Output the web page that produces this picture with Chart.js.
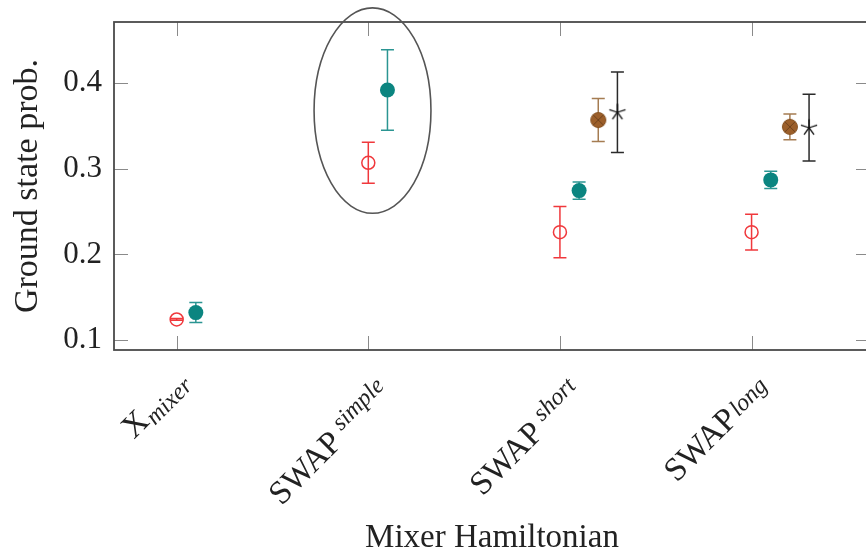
<!DOCTYPE html>
<html>
<head>
<meta charset="utf-8">
<script src="https://cdn.jsdelivr.net/npm/chart.js@4.4.1/dist/chart.umd.min.js"></script>
<style>
  html, body { margin: 0; padding: 0; overflow: hidden; background: #fff; }
  canvas { display: block; }
</style>
</head>
<body>
<canvas id="probChart" width="880" height="555"></canvas>
<script>
// categories (main word + index) and y ticks
const categoryNames = ['X', 'SWAP', 'SWAP', 'SWAP'];
const categorySubs = ['mixer', 'simple', 'short', 'long'];
const yTickValues = [0.1, 0.2, 0.3, 0.4];

// mean ground state probability and error (half width) per series
const redMean = [0.124, 0.307, 0.226, 0.226];
const redErr = [0.001, 0.024, 0.030, 0.021];
const tealMean = [0.132, 0.392, 0.2745, 0.287];
const tealErr = [0.0117, 0.047, 0.010, 0.010];
const brownMean = [null, null, 0.357, 0.349];
const brownErr = [null, null, 0.025, 0.015];
const blackMean = [null, null, 0.366, 0.348];
const blackErr = [null, null, 0.047, 0.039];

function toPoints(mean, err, shift) {
    const pts = [];
    mean.forEach((m, i) => {
        if (m !== null) pts.push({ x: i + shift, y: m, err: err[i] });
    });
    return pts;
}

// otimes* style marker
function makeOtimes() {
    const c = document.createElement('canvas');
    c.width = 18; c.height = 18;
    const g = c.getContext('2d');
    g.beginPath();
    g.arc(9, 9, 7.5, 0, Math.PI * 2);
    g.fillStyle = '#9c5f2a';
    g.fill();
    g.strokeStyle = '#85501f';
    g.lineWidth = 1;
    g.stroke();
    g.beginPath();
    const d = 7.5 * Math.SQRT1_2;
    g.moveTo(9 - d, 9 - d); g.lineTo(9 + d, 9 + d);
    g.moveTo(9 + d, 9 - d); g.lineTo(9 - d, 9 + d);
    g.strokeStyle = '#6e421c';
    g.stroke();
    return c;
}

// five armed star marker
function makeStar() {
    const c = document.createElement('canvas');
    c.width = 20; c.height = 20;
    const g = c.getContext('2d');
    g.strokeStyle = '#111';
    g.lineWidth = 1.3;
    g.beginPath();
    for (let k = 0; k < 5; k++) {
        const a = -Math.PI / 2 + k * 2 * Math.PI / 5;
        g.moveTo(10, 10);
        g.lineTo(10 + 8.5 * Math.cos(a), 10 + 8.5 * Math.sin(a));
    }
    g.stroke();
    return c;
}

const errorBars = {
    id: 'errorBars',
    beforeDatasetsDraw(chart) {
        const ctx = chart.ctx;
        const xs = chart.scales.x, ys = chart.scales.y;
        ctx.save();
        chart.data.datasets.forEach(ds => {
            ctx.strokeStyle = ds.errColor;
            ctx.lineWidth = 1.5;
            ds.data.forEach(p => {
                const px = xs.getPixelForValue(p.x);
                const top = ys.getPixelForValue(p.y + p.err);
                const bot = ys.getPixelForValue(p.y - p.err);
                ctx.beginPath();
                ctx.moveTo(px, top); ctx.lineTo(px, bot);
                ctx.moveTo(px - 6.5, top); ctx.lineTo(px + 6.5, top);
                ctx.moveTo(px - 6.5, bot); ctx.lineTo(px + 6.5, bot);
                ctx.stroke();
            });
        });
        ctx.restore();
    }
};

const frameAndLabels = {
    id: 'frameAndLabels',
    afterDraw(chart) {
        const ctx = chart.ctx;
        const a = chart.chartArea;
        const xs = chart.scales.x, ys = chart.scales.y;
        ctx.save();
        // inward tick marks
        ctx.strokeStyle = '#8a8a8a';
        ctx.lineWidth = 1;
        ctx.beginPath();
        xs.ticks.forEach(t => {
            const px = Math.round(xs.getPixelForValue(t.value)) + 0.5;
            ctx.moveTo(px, a.bottom); ctx.lineTo(px, a.bottom - 14);
            ctx.moveTo(px, a.top); ctx.lineTo(px, a.top + 14);
        });
        ys.ticks.forEach(t => {
            const py = Math.round(ys.getPixelForValue(t.value)) + 0.5;
            ctx.moveTo(a.left, py); ctx.lineTo(a.left + 14, py);
            ctx.moveTo(a.right, py); ctx.lineTo(a.right - 14, py);
        });
        ctx.stroke();
        // frame
        ctx.strokeStyle = '#4a4a4a';
        ctx.lineWidth = 1.8;
        ctx.strokeRect(a.left, a.top, a.right - a.left, a.bottom - a.top);

        // highlight ellipse round SWAP simple
        const cx = xs.getPixelForValue(1.022), cy = ys.getPixelForValue(0.368);
        const rx = xs.getPixelForValue(1.327) - cx;
        const ry = cy - ys.getPixelForValue(0.488);
        ctx.beginPath();
        ctx.ellipse(cx, cy, rx, ry, 0, 0, Math.PI * 2);
        ctx.strokeStyle = '#555';
        ctx.lineWidth = 1.6;
        ctx.stroke();

        // rotated category labels with index
        const mainDy = [-5, 11, 11, 3];
        const gaps = [1, 7, 7, 2];
        ctx.fillStyle = '#222';
        categoryNames.forEach((name, i) => {
            const px = xs.getPixelForValue(i);
            ctx.save();
            ctx.translate(px + 17, a.bottom + 37);
            ctx.rotate(-Math.PI / 4);
            ctx.textAlign = 'right';
            ctx.textBaseline = 'alphabetic';
            ctx.font = 'italic 24px "Liberation Serif"';
            ctx.fillText(categorySubs[i], 0, 0);
            const subW = ctx.measureText(categorySubs[i]).width;
            ctx.font = 'normal 33px "Liberation Serif"';
            ctx.fillText(name, -subW - gaps[i], mainDy[i]);
            ctx.restore();
        });
        ctx.restore();
    }
};

const ctx = document.getElementById('probChart').getContext('2d');
const probChart = new Chart(ctx, {
    type: 'scatter',
    data: {
        datasets: [{
            label: 'red',
            data: toPoints(redMean, redErr, 0),
            pointStyle: 'circle',
            pointRadius: 6.5,
            borderColor: '#f0383c',
            backgroundColor: 'rgba(255,255,255,0)',
            borderWidth: 1.5,
            errColor: '#f0383c'
        }, {
            label: 'teal',
            data: toPoints(tealMean, tealErr, 0.1),
            pointStyle: 'circle',
            pointRadius: 7.5,
            borderColor: '#0b8580',
            backgroundColor: '#0b8580',
            borderWidth: 0,
            errColor: '#2b9592'
        }, {
            label: 'brown',
            data: toPoints(brownMean, brownErr, 0.2),
            pointStyle: makeOtimes(),
            errColor: '#a57c52'
        }, {
            label: 'black',
            data: toPoints(blackMean, blackErr, 0.3),
            pointStyle: makeStar(),
            errColor: '#2a2a2a'
        }]
    },
    options: {
        responsive: false,
        animation: false,
        layout: { padding: { top: 22, right: 10, left: 0, bottom: 0 } },
        plugins: { legend: { display: false }, tooltip: { enabled: false } },
        scales: {
            x: {
                type: 'linear',
                min: -0.327,
                max: 3.618,
                grid: { display: false, drawTicks: false },
                border: { display: false },
                ticks: { display: false },
                afterBuildTicks: s => { s.ticks = categoryNames.map((n, i) => ({ value: i })); },
                afterFit: s => { s.height = 205; s.paddingLeft = 0; s.paddingRight = 0; },
                title: {
                    display: true,
                    text: 'Mixer Hamiltonian',
                    color: '#222',
                    font: { family: 'Liberation Serif', size: 33, lineHeight: 1 },
                    padding: 0
                }
            },
            y: {
                min: 0.0883,
                max: 0.4715,
                grid: { display: false, drawTicks: false },
                border: { display: false },
                afterBuildTicks: s => { s.ticks = yTickValues.map(v => ({ value: v })); },
                afterFit: s => { s.width = 114; s.paddingTop = 0; s.paddingBottom = 0; },
                ticks: {
                    color: '#222',
                    padding: 12,
                    font: { family: 'Liberation Serif', size: 31 },
                    callback: v => v.toFixed(1)
                },
                title: {
                    display: true,
                    text: 'Ground state prob.',
                    color: '#222',
                    font: { family: 'Liberation Serif', size: 34, lineHeight: 1 },
                    padding: { top: 11, bottom: 0 }
                }
            }
        }
    },
    plugins: [errorBars, frameAndLabels]
});
</script>
</body>
</html>
